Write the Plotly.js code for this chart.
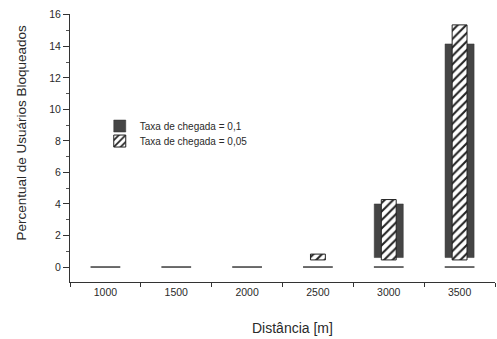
<!DOCTYPE html>
<html>
<head>
<meta charset="utf-8">
<script src="https://cdn.plot.ly/plotly-3.0.1.min.js"></script>
<style>html,body{margin:0;padding:0;background:#fff}#chart{width:497px;height:339px}</style>
</head>
<body>
<div id="chart"></div>
<script>
var categories = ['1000', '1500', '2000', '2500', '3000', '3500'];
var taxa01 = [0, 0, 0, 0, 4.0, 14.15];
var taxa005 = [0, 0, 0, 0.82, 4.28, 15.36];
var seriesNames = ['Taxa de chegada = 0,1', 'Taxa de chegada = 0,05'];
var zeroMarks = [0, 0, 0, 0, 0, 0];

var floorDark = 0.6, floorHatch = 0.45;
function span(vals, fl) { return vals.map(function (v) { return v > fl ? v - fl : null; }); }

var traces = [
  {
    type: 'bar', x: categories, y: zeroMarks.map(function () { return 0.1; }),
    base: zeroMarks.map(function (v) { return v - 0.05; }),
    width: 0.42, marker: { color: '#444' }, showlegend: false, hoverinfo: 'skip'
  },
  {
    type: 'bar', name: seriesNames[0], x: categories, y: span(taxa01, floorDark), base: floorDark,
    width: 0.41, legend: 'legend',
    marker: { color: '#454545', line: { color: '#333', width: 0.5 } }
  },
  {
    type: 'bar', name: seriesNames[1], x: categories, y: span(taxa005, floorHatch), base: floorHatch,
    width: 0.21, legend: 'legend2',
    marker: {
      color: '#ffffff',
      line: { color: '#222', width: 1 },
      pattern: { shape: '/', fgcolor: '#222', bgcolor: '#ffffff', size: 6, solidity: 0.35 }
    }
  }
];

var legendStyle = function (y) {
  return {
    x: 0.07, y: y, xanchor: 'left', yanchor: 'middle',
    bgcolor: 'rgba(0,0,0,0)', font: { size: 10, color: '#2a2a2a' },
    itemwidth: 30, borderwidth: 0
  };
};

var layout = {
  width: 497, height: 339,
  margin: { l: 70, r: 2, t: 14, b: 57 },
  paper_bgcolor: '#fff', plot_bgcolor: '#fff',
  barmode: 'overlay',
  font: { family: 'Liberation Sans, Arial, sans-serif', size: 10, color: '#2a2a2a' },
  showlegend: true,
  legend: legendStyle(0.582),
  legend2: legendStyle(0.526),
  xaxis: {
    type: 'category', range: [-0.5, 5.5],
    showline: true, linecolor: '#333', linewidth: 1,
    ticks: 'outside', tickson: 'boundaries', ticklen: 4, tickcolor: '#333',
    showgrid: false, zeroline: false, tickfont: { size: 10.5 }
  },
  yaxis: {
    range: [-0.95, 16.05], dtick: 2, tick0: 0,
    showline: true, linecolor: '#333', linewidth: 1,
    ticks: 'outside', ticklen: 6, tickcolor: '#333',
    minor: { ticks: 'outside', dtick: 1, ticklen: 3, tickcolor: '#555' },
    showgrid: false, zeroline: false, tickfont: { size: 10.5 }
  },
  annotations: [
    {
      text: 'Percentual de Usuários Bloqueados', textangle: -90,
      xref: 'paper', yref: 'paper', x: -0.114, y: 0.556,
      xanchor: 'center', yanchor: 'middle', showarrow: false,
      font: { size: 13.5, color: '#2a2a2a' }
    },
    {
      text: 'Distância [m]',
      xref: 'paper', yref: 'paper', x: 0.524, y: -0.172,
      xanchor: 'center', yanchor: 'middle', showarrow: false,
      font: { size: 14, color: '#2a2a2a' }
    }
  ]
};

Plotly.newPlot('chart', traces, layout, { displayModeBar: false, staticPlot: true });
</script>
</body>
</html>
